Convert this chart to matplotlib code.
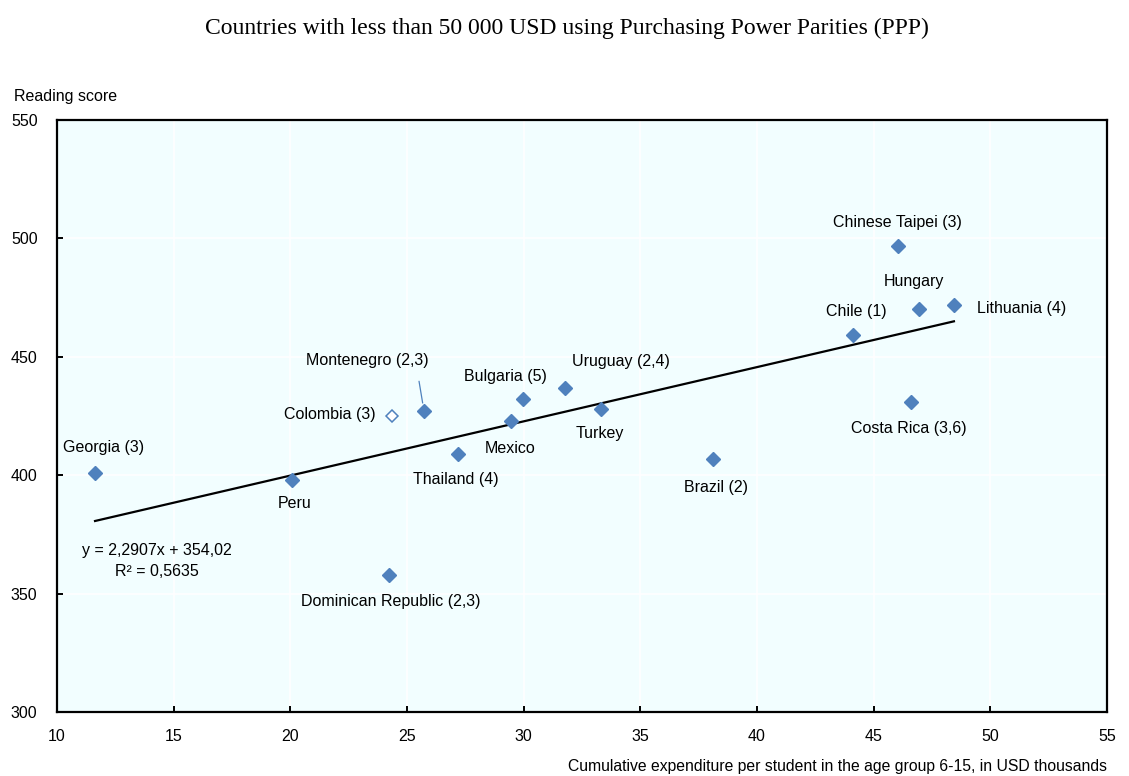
import matplotlib
matplotlib.use("Agg")
import matplotlib.pyplot as plt
import numpy as np

plt.rcParams['font.family'] = ['Liberation Sans', 'DejaVu Sans']

# Data: cumulative expenditure (USD thousands) and PISA reading score
countries = ["Georgia (3)", "Peru", "Dominican Republic (2,3)", "Montenegro (2,3)",
             "Thailand (4)", "Mexico", "Bulgaria (5)", "Uruguay (2,4)", "Turkey",
             "Brazil (2)", "Chile (1)", "Chinese Taipei (3)", "Hungary",
             "Lithuania (4)", "Costa Rica (3,6)"]
expenditure = [11.63, 20.07, 24.23, 25.73, 27.19, 29.46, 29.97, 31.77, 33.31,
               38.11, 44.11, 46.04, 46.94, 48.44, 46.60]
reading = [401, 398, 358, 427, 409, 423, 432, 437, 428, 407, 459, 497, 470, 472, 431]

# Country shown separately (not part of the fit)
hollow_country = "Colombia (3)"
hollow_expenditure = 24.36
hollow_reading = 425

# Linear trend
slope = 2.2907
intercept = 354.02
r_squared = 0.5635

x_ticks = [10, 15, 20, 25, 30, 35, 40, 45, 50, 55]
y_ticks = [300, 350, 400, 450, 500, 550]

# Label placement: offset in pixels (dx right, dy down) and alignment
label_offsets = {
    "Georgia (3)": (9, -25, "center"),
    "Peru": (3, 24, "center"),
    "Dominican Republic (2,3)": (2, 27, "center"),
    "Montenegro (2,3)": (-57, -51, "center"),
    "Thailand (4)": (-2, 26, "center"),
    "Mexico": (-1, 28, "center"),
    "Bulgaria (5)": (-18, -23, "center"),
    "Uruguay (2,4)": (56, -26, "center"),
    "Turkey": (-1, 25, "center"),
    "Brazil (2)": (3, 29, "center"),
    "Chile (1)": (3, -24, "center"),
    "Chinese Taipei (3)": (0, -23, "center"),
    "Hungary": (-5, -28, "center"),
    "Lithuania (4)": (23, 4, "left"),
    "Costa Rica (3,6)": (-2, 27, "center"),
}

fs = 11.5
dpi = 100
fig = plt.figure(figsize=(11.29, 7.76), dpi=dpi)
ax = fig.add_axes([57 / 1129, 1 - 712 / 776, 1050 / 1129, 592 / 776])

blue = "#4F81BD"
ax.set_facecolor("#F2FEFF")
ax.set_xlim(10, 55)
ax.set_ylim(300, 550)
ax.set_xticks(x_ticks)
ax.set_yticks(y_ticks)
ax.grid(True, color="white", linewidth=1.2)
ax.set_axisbelow(True)

for s in ax.spines.values():
    s.set_color("black")
    s.set_linewidth(1.6)

ax.tick_params(axis="both", direction="in", length=4, width=1.4, labelsize=fs,
               colors="black")
ax.tick_params(axis="y", pad=14)
ax.tick_params(axis="x", pad=12)

# Trend line over the range of the fitted countries
xs = np.array([min(expenditure), max(expenditure)])
ax.plot(xs, slope * xs + intercept, color="black", linewidth=1.6, zorder=2)

ax.plot(expenditure, reading, linestyle="none", marker="D", markersize=7,
        color=blue, markeredgecolor=blue, zorder=3)
ax.plot([hollow_expenditure], [hollow_reading], linestyle="none", marker="D",
        markersize=6.3, markerfacecolor="white", markeredgecolor=blue,
        markeredgewidth=1.1, zorder=3)

px2pt = 72 / dpi
for name, x, y in zip(countries, expenditure, reading):
    dx, dy, ha = label_offsets[name]
    ax.annotate(name, (x, y), xytext=(dx * px2pt, -dy * px2pt),
                textcoords="offset points", ha=ha, va="center", fontsize=fs)

ax.annotate(hollow_country, (hollow_expenditure, hollow_reading),
            xytext=(-16 * px2pt, 2 * px2pt), textcoords="offset points",
            ha="right", va="center", fontsize=fs)

# Leader line for Montenegro
mx = expenditure[countries.index("Montenegro (2,3)")]
my = reading[countries.index("Montenegro (2,3)")]
ax.annotate("", (mx, my), xytext=(-5 * px2pt, 30 * px2pt),
            textcoords="offset points",
            arrowprops=dict(arrowstyle="-", color=blue, linewidth=0.9,
                            shrinkA=0, shrinkB=6))

eq_text = (f"y = {slope}x + {intercept:.2f}".replace('.', ',')
           + f"\nR² = {r_squared}".replace('.', ','))
fig.text(157 / 1129, 1 - 561 / 776, eq_text, ha="center", va="center",
         fontsize=fs, linespacing=1.55)

fig.text(14 / 1129, 1 - 97 / 776, "Reading score", ha="left", va="center",
         fontsize=fs)
fig.text(1107 / 1129, 1 - 766 / 776,
         "Cumulative expenditure per student in the age group 6-15, in USD thousands",
         ha="right", va="center", fontsize=11.3)
fig.text(567 / 1129, 1 - 28 / 776,
         "Countries with less than 50 000 USD using Purchasing Power Parities (PPP)",
         ha="center", va="center", fontsize=17, family=["Liberation Serif", "DejaVu Serif"])

fig.savefig("out.png", dpi=dpi, facecolor="white")
